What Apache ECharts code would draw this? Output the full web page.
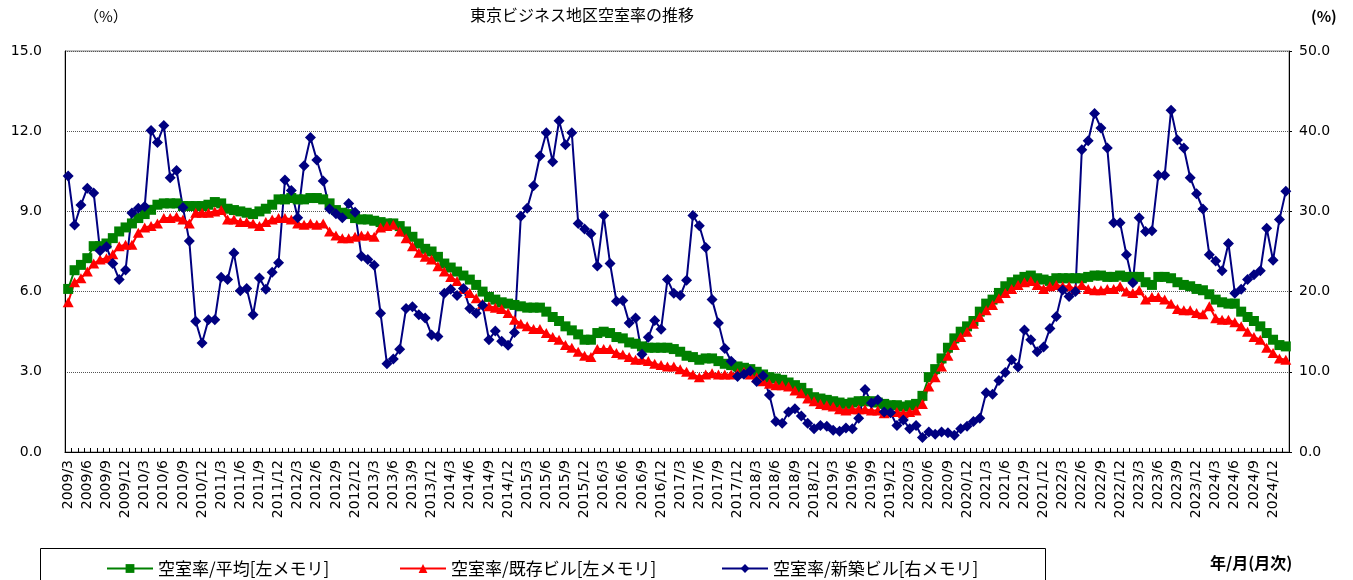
<!DOCTYPE html>
<html>
<head>
<meta charset="utf-8">
<script src="https://cdn.jsdelivr.net/npm/echarts@6/dist/echarts.min.js"></script>
<style>
html, body { margin: 0; padding: 0; background: #fff; }
#main { width: 1353px; height: 580px; }
</style>
</head>
<body>
<div id="main"></div>
<script>
// 月次ラベル 2009/3 ～ 2025/2
var firstYear = 2009, firstMonth = 3, monthCount = 192;
var months = [];
for (var k = 0; k < monthCount; k++) {
	var m = firstMonth - 1 + k;
	months.push((firstYear + Math.floor(m / 12)) + '/' + (m % 12 + 1));
}

// 空室率/平均 [左メモリ]
var avgRate = [
	6.1, 6.8, 7.0, 7.25, 7.7, 7.7, 7.8, 8.0, 8.25, 8.4, 8.55, 8.75, 8.9, 9.06, 9.25, 9.3, 9.3, 9.3, 9.2, 9.2,
	9.2, 9.2, 9.25, 9.35, 9.3, 9.1, 9.05, 9.0, 8.95, 8.9, 9.0, 9.1, 9.25, 9.45, 9.45, 9.5, 9.45, 9.45, 9.5, 9.5,
	9.45, 9.3, 9.05, 8.95, 8.9, 8.75, 8.7, 8.7, 8.65, 8.6, 8.55, 8.55, 8.45, 8.25, 8.05, 7.8, 7.6, 7.5, 7.3, 7.05,
	6.9, 6.75, 6.6, 6.45, 6.25, 6.0, 5.8, 5.7, 5.6, 5.55, 5.5, 5.45, 5.4, 5.4, 5.4, 5.25, 5.05, 4.9, 4.7, 4.55,
	4.4, 4.2, 4.2, 4.45, 4.5, 4.45, 4.3, 4.25, 4.1, 4.05, 3.95, 3.9, 3.9, 3.9, 3.9, 3.85, 3.75, 3.6, 3.55, 3.45,
	3.5, 3.5, 3.4, 3.3, 3.25, 3.2, 3.15, 3.1, 3.0, 2.9, 2.8, 2.75, 2.7, 2.6, 2.5, 2.4, 2.2, 2.05, 2.0, 1.95,
	1.9, 1.85, 1.8, 1.85, 1.9, 1.9, 1.9, 1.85, 1.8, 1.75, 1.75, 1.7, 1.75, 1.8, 2.1, 2.8, 3.1, 3.5, 3.9, 4.25,
	4.5, 4.7, 4.9, 5.25, 5.55, 5.7, 5.95, 6.2, 6.35, 6.45, 6.55, 6.6, 6.5, 6.45, 6.4, 6.5, 6.5, 6.5, 6.5, 6.5,
	6.55, 6.6, 6.6, 6.55, 6.55, 6.6, 6.55, 6.55, 6.55, 6.35, 6.25, 6.55, 6.55, 6.5, 6.35, 6.25, 6.2, 6.1, 6.05, 5.9,
	5.7, 5.6, 5.55, 5.55, 5.25, 5.05, 4.9, 4.7, 4.45, 4.2, 4.0, 3.95
];

// 空室率/既存ビル [左メモリ]
var existRate = [
	5.6, 6.35, 6.5, 6.75, 7.05, 7.2, 7.25, 7.4, 7.7, 7.75, 7.75, 8.2, 8.4, 8.45, 8.55, 8.75, 8.75, 8.8, 8.7, 8.55,
	8.95, 8.95, 8.95, 9.0, 9.05, 8.7, 8.7, 8.6, 8.6, 8.55, 8.45, 8.6, 8.7, 8.75, 8.75, 8.7, 8.55, 8.5, 8.55, 8.5,
	8.55, 8.25, 8.1, 8.0, 8.0, 8.05, 8.1, 8.1, 8.05, 8.4, 8.45, 8.5, 8.25, 8.0, 7.7, 7.45, 7.3, 7.2, 6.95, 6.75,
	6.55, 6.4, 6.1, 5.95, 5.75, 5.55, 5.45, 5.4, 5.35, 5.2, 4.95, 4.8, 4.7, 4.6, 4.6, 4.45, 4.3, 4.2, 4.0, 3.9,
	3.75, 3.6, 3.55, 3.85, 3.85, 3.85, 3.7, 3.65, 3.55, 3.45, 3.45, 3.4, 3.3, 3.25, 3.2, 3.2, 3.1, 3.0, 2.9, 2.8,
	2.9, 2.95, 2.9, 2.9, 2.9, 2.95, 3.0, 2.9, 2.8, 2.65, 2.55, 2.5, 2.5, 2.45, 2.3, 2.2, 2.0, 1.9, 1.8, 1.75,
	1.7, 1.6, 1.55, 1.6, 1.6, 1.6, 1.55, 1.55, 1.45, 1.5, 1.5, 1.45, 1.5, 1.55, 1.8, 2.45, 2.8, 3.2, 3.6, 4.0,
	4.3, 4.5, 4.8, 5.05, 5.3, 5.5, 5.75, 5.95, 6.1, 6.25, 6.35, 6.4, 6.25, 6.1, 6.2, 6.25, 6.2, 6.2, 6.1, 6.25,
	6.1, 6.05, 6.05, 6.1, 6.1, 6.2, 6.0, 5.95, 6.05, 5.7, 5.8, 5.8, 5.7, 5.55, 5.35, 5.3, 5.3, 5.2, 5.15, 5.45,
	5.0, 4.95, 4.95, 4.85, 4.7, 4.5, 4.3, 4.2, 3.9, 3.7, 3.5, 3.45
];

// 空室率/新築ビル [右メモリ]
var newRate = [
	34.4, 28.3, 30.8, 32.9, 32.3, 25.1, 25.6, 23.5, 21.5, 22.7, 29.8, 30.4, 30.6, 40.1, 38.6, 40.7, 34.2, 35.1, 30.5, 26.3,
	16.3, 13.6, 16.5, 16.5, 21.8, 21.5, 24.8, 20.1, 20.4, 17.1, 21.7, 20.3, 22.4, 23.6, 33.9, 32.6, 29.2, 35.7, 39.2, 36.4,
	33.8, 30.3, 29.7, 29.2, 31.0, 29.9, 24.4, 24.0, 23.3, 17.3, 11.0, 11.6, 12.8, 17.9, 18.1, 17.1, 16.7, 14.6, 14.4, 19.8,
	20.3, 19.5, 20.4, 17.9, 17.3, 18.3, 14.0, 15.1, 13.8, 13.3, 14.9, 29.4, 30.4, 33.2, 36.9, 39.8, 36.2, 41.3, 38.3, 39.8,
	28.5, 27.8, 27.2, 23.2, 29.5, 23.5, 18.8, 18.9, 16.1, 16.7, 12.2, 14.3, 16.4, 15.3, 21.5, 19.8, 19.5, 21.4, 29.5, 28.2,
	25.5, 19.0, 16.1, 12.9, 11.3, 9.4, 9.7, 10.1, 8.8, 9.5, 7.1, 3.8, 3.6, 5.0, 5.4, 4.5, 3.6, 2.9, 3.3, 3.2,
	2.7, 2.6, 3.0, 2.9, 4.2, 7.8, 6.1, 6.5, 5.0, 4.9, 3.3, 4.0, 2.9, 3.3, 1.8, 2.5, 2.2, 2.5, 2.4, 2.1,
	2.9, 3.2, 3.8, 4.2, 7.4, 7.2, 8.9, 9.9, 11.5, 10.6, 15.2, 14.0, 12.5, 13.1, 15.4, 16.9, 20.2, 19.4, 20.0, 37.7,
	38.8, 42.2, 40.4, 37.9, 28.6, 28.6, 24.6, 21.1, 29.2, 27.5, 27.6, 34.5, 34.5, 42.6, 38.9, 37.9, 34.2, 32.2, 30.3, 24.6,
	23.8, 22.6, 26.0, 19.8, 20.3, 21.5, 22.1, 22.6, 27.9, 23.9, 29.0, 32.5
];

var seriesNames = ['空室率/平均[左メモリ]', '空室率/既存ビル[左メモリ]', '空室率/新築ビル[右メモリ]'];

var jpFont = '"Noto Sans CJK JP", sans-serif';
var numFont = '"DejaVu Sans", sans-serif';

function legendAt(name, x) {
	return {
		data: [name],
		left: x,
		top: 555,
		itemWidth: 46,
		itemHeight: 11,
		textStyle: { fontFamily: jpFont, fontSize: 17, color: '#000' }
	};
}

var option = {
	backgroundColor: '#fff',
	animation: false,
	grid: {
		left: 65, right: 64, top: 51, bottom: 128,
		show: true, borderColor: '#808080', borderWidth: 1
	},
	legend: [
		legendAt(seriesNames[0], 101),
		legendAt(seriesNames[1], 394),
		legendAt(seriesNames[2], 716)
	],
	graphic: [
		{ type: 'text', left: 470, top: 7, style: { text: '東京ビジネス地区空室率の推移', font: '16px ' + jpFont, fill: '#000' } },
		{ type: 'text', left: 84, top: 9, style: { text: '（%）', font: '15px ' + jpFont, fill: '#000' } },
		{ type: 'text', left: 1311, top: 9, style: { text: '(%)', font: 'bold 15px ' + jpFont, fill: '#000' } },
		{ type: 'text', left: 1210, top: 555, style: { text: '年/月(月次)', font: 'bold 16px ' + jpFont, fill: '#000' } },
		{ type: 'rect', shape: { x: 40.5, y: 548.5, width: 1005, height: 40 }, style: { fill: 'none', stroke: '#000', lineWidth: 1 } }
	],
	xAxis: {
		type: 'category',
		data: months,
		boundaryGap: true,
		axisLine: { lineStyle: { color: '#000', width: 1 } },
		axisTick: { show: true, interval: 0, inside: true, length: 4, lineStyle: { color: '#000' } },
		axisLabel: { interval: 2, rotate: 90, margin: 8, fontFamily: numFont, fontSize: 14, color: '#000' },
		splitLine: { show: false }
	},
	yAxis: [
		{
			type: 'value', min: 0, max: 15, interval: 3, position: 'left',
			axisLine: { show: true, lineStyle: { color: '#000', width: 1 } },
			axisTick: { show: false },
			axisLabel: { margin: 23, fontFamily: numFont, fontSize: 14, color: '#000', formatter: function (v) { return v.toFixed(1); } },
			splitLine: { show: true, lineStyle: { color: '#555', type: 'dotted', width: 1 } }
		},
		{
			type: 'value', min: 0, max: 50, interval: 10, position: 'right',
			axisLine: { show: true, lineStyle: { color: '#000', width: 1 } },
			axisTick: { show: true, length: 3, lineStyle: { color: '#000' } },
			axisLabel: { margin: 10, fontFamily: numFont, fontSize: 14, color: '#000', formatter: function (v) { return v.toFixed(1); } },
			splitLine: { show: false }
		}
	],
	series: [
		{
			name: seriesNames[0], type: 'line', yAxisIndex: 0, data: avgRate,
			symbol: 'rect', symbolSize: 10, showAllSymbol: true,
			lineStyle: { color: '#008000', width: 2 },
			itemStyle: { color: '#008000' }
		},
		{
			name: seriesNames[1], type: 'line', yAxisIndex: 0, data: existRate,
			symbol: 'triangle', symbolSize: [11, 10], showAllSymbol: true,
			lineStyle: { color: '#ff0000', width: 2 },
			itemStyle: { color: '#ff0000' }
		},
		{
			name: seriesNames[2], type: 'line', yAxisIndex: 1, data: newRate,
			symbol: 'diamond', symbolSize: 11, showAllSymbol: true,
			lineStyle: { color: '#000080', width: 2 },
			itemStyle: { color: '#000080' }
		}
	]
};

var chart = echarts.init(document.getElementById('main'));
chart.setOption(option);
</script>
</body>
</html>
